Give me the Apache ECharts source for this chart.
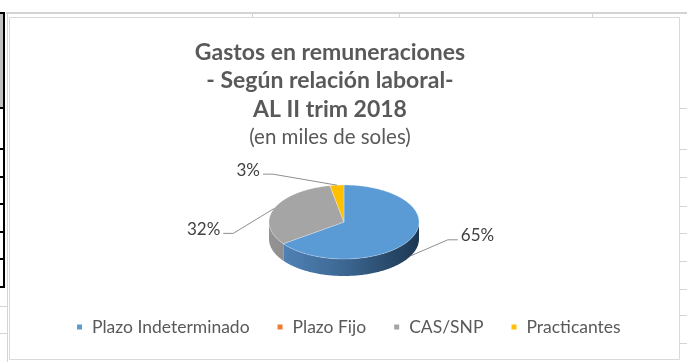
<!DOCTYPE html>
<html>
<head>
<meta charset="utf-8">
<script src="https://cdn.jsdelivr.net/npm/echarts@6/dist/echarts.min.js"></script>
<style>
  html, body { margin: 0; padding: 0; background: #ffffff; }
  #chart { width: 687px; height: 362px; }
</style>
</head>
<body>
<div id="chart"></div>
<script>
// Remuneration spending by employment relation (shares of total)
const categories = ['Plazo Indeterminado', 'Plazo Fijo', 'CAS/SNP', 'Practicantes'];
const values = [65, 0, 32, 3];
const titleLines = ['Gastos en remuneraciones', '- Según relación laboral-', 'AL II trim 2018'];
const subtitle = '(en miles de soles)';

// Styling
const colors = ['#5B9BD5', '#ED7D31', '#A5A5A5', '#FFC000'];
const wallColors = [
  ['#5587bd', '#3c6792', '#1d3752'],
  ['#d06a25', '#b0561a', '#8a4010'],
  ['#939393', '#7c7c7c', '#626262'],
  ['#e0a800', '#c09000', '#9a7300']
];
// Leader line geometry for each slice label: offset of the elbow from the anchor,
// direction of the horizontal tail, and whether the anchor sits on the lower rim.
const labelLayout = [
  { dx: 37, dy: -16, dir: 1, rim: true },
  null,
  { dx: -41, dy: 25, dir: -1, rim: false },
  { dx: -64, dy: -11, dir: -1, rim: false }
];

const PIE = { cx: 344, cy: 222, rx: 75, ry: 37, depth: 17 };
const FONT = 'Lato, "Open Sans", sans-serif';

const total = values.reduce((a, b) => a + b, 0);
const starts = [];
(function () {
  let acc = 0;
  values.forEach(v => { starts.push(acc / total * 360); acc += v; });
})();

// Point on the tilted pie rim; angle measured clockwise from 12 o'clock
function rimPoint(deg, dy) {
  const r = deg * Math.PI / 180;
  return [PIE.cx + PIE.rx * Math.sin(r), PIE.cy - PIE.ry * Math.cos(r) + (dy || 0)];
}
function arcPoints(a0, a1, dy) {
  const pts = [];
  const n = Math.max(2, Math.ceil(Math.abs(a1 - a0)));
  for (let k = 0; k <= n; k++) pts.push(rimPoint(a0 + (a1 - a0) * k / n, dy));
  return pts;
}

function makeRender(i) {
  return function (params, api) {
    const v = api.value(0);
    if (!v) return { type: 'group', children: [] };
    const a0 = starts[i];
    const a1 = a0 + v / total * 360;
    const children = [];

    // visible front wall (between 3 and 9 o'clock, lower half)
    const s0 = Math.max(a0, 90), s1 = Math.min(a1, 270);
    if (s1 > s0) {
      const pts = arcPoints(s0, s1, 0).concat(arcPoints(s1, s0, PIE.depth));
      children.push({
        type: 'polygon', z2: 1,
        shape: { points: pts },
        style: {
          fill: {
            type: 'linear', global: true,
            x: PIE.cx - PIE.rx, y: 0, x2: PIE.cx + PIE.rx, y2: 0,
            colorStops: [
              { offset: 0, color: wallColors[i][0] },
              { offset: 0.5, color: wallColors[i][1] },
              { offset: 1, color: wallColors[i][2] }
            ]
          },
          stroke: null
        }
      });
    }

    // top face
    children.push({
      type: 'polygon', z2: 5,
      shape: { points: [[PIE.cx, PIE.cy]].concat(arcPoints(a0, a1, 0)) },
      style: { fill: colors[i], stroke: 'rgba(255,255,255,0.45)', lineWidth: 0.6 }
    });

    // data label with leader line
    const lay = labelLayout[i];
    if (lay) {
      const mid = (a0 + a1) / 2;
      const anchor = rimPoint(mid, lay.rim ? PIE.depth : 0);
      const elbow = [anchor[0] + lay.dx, anchor[1] + lay.dy];
      const end = [elbow[0] + lay.dir * 10, elbow[1]];
      children.push({
        type: 'polyline', z2: 8,
        shape: { points: [anchor, elbow, end] },
        style: { stroke: '#8f8f8f', lineWidth: 1, fill: null }
      });
      const align = lay.dir > 0 ? 'left' : 'right';
      children.push({
        type: 'text', z2: 9,
        x: end[0] + lay.dir * 3, y: end[1] - 4,
        style: {
          text: Math.round(v / total * 100) + '%',
          fill: '#404040',
          font: '17px ' + FONT,
          align: align, textAlign: align,
          verticalAlign: 'middle', textVerticalAlign: 'middle'
        }
      });
    }
    return { type: 'group', children: children };
  };
}

// Worksheet surroundings drawn behind the chart frame
const sheet = [];
function hline(x1, x2, y, stroke, w) {
  sheet.push({ type: 'line', silent: true, z: -10, shape: { x1: x1, y1: y, x2: x2, y2: y }, style: { stroke: stroke, lineWidth: w } });
}
function vline(x, y1, y2, stroke, w) {
  sheet.push({ type: 'line', silent: true, z: -10, shape: { x1: x, y1: y1, x2: x, y2: y2 }, style: { stroke: stroke, lineWidth: w } });
}
hline(6, 687, 13, '#d4d4d4', 2);
[252.5, 399.5, 592.5].forEach(x => vline(x, 13, 17, '#d4d4d4', 1));
vline(7.5, 13, 362, '#d4d4d4', 1);
[108.5, 149.5, 177.5, 206.5, 233.5, 261.5, 289.5, 315.5, 343.5].forEach(y => hline(680, 687, y, '#d4d4d4', 1));
[306.5, 333.5].forEach(y => hline(0, 8, y, '#d4d4d4', 1));
sheet.push({ type: 'rect', silent: true, z: -10, shape: { x: 0, y: 13, width: 3, height: 95 }, style: { fill: '#c0c0c0' } });
vline(4, 12, 288, '#000000', 2);
[13, 108, 149, 177, 204, 232, 259, 287].forEach(y => hline(0, 5, y, '#000000', 2));
sheet.push({ type: 'rect', silent: true, z: -9, shape: { x: 9.5, y: 17.5, width: 670, height: 342 }, style: { fill: '#ffffff', stroke: '#d9d9d9', lineWidth: 1 } });

const chart = echarts.init(document.getElementById('chart'), null, { renderer: 'canvas' });
chart.setOption({
  animation: false,
  backgroundColor: '#ffffff',
  graphic: sheet,
  title: {
    text: titleLines.map(t => '{b|' + t + '}').join('\n') + '\n{r|' + subtitle + '}',
    left: 325,
    top: 33,
    textAlign: 'center',
    textStyle: {
      rich: {
        b: { fontFamily: FONT, fontWeight: 'bold', fontSize: 23, color: '#595959', lineHeight: 28.5, align: 'center' },
        r: { fontFamily: FONT, fontWeight: 'normal', fontSize: 20.5, color: '#595959', lineHeight: 28.5, align: 'center' }
      }
    }
  },
  legend: {
    data: categories,
    icon: 'rect',
    itemWidth: 5,
    itemHeight: 5,
    itemGap: 28,
    left: 77,
    top: 318,
    padding: 0,
    selectedMode: false,
    textStyle: { fontFamily: FONT, fontSize: 17.5, color: '#595959', padding: [0, 0, 0, 5] }
  },
  series: categories.map((name, i) => ({
    type: 'custom',
    name: name,
    coordinateSystem: 'none',
    itemStyle: { color: colors[i] },
    renderItem: makeRender(i),
    data: [values[i]]
  }))
});
</script>
</body>
</html>
